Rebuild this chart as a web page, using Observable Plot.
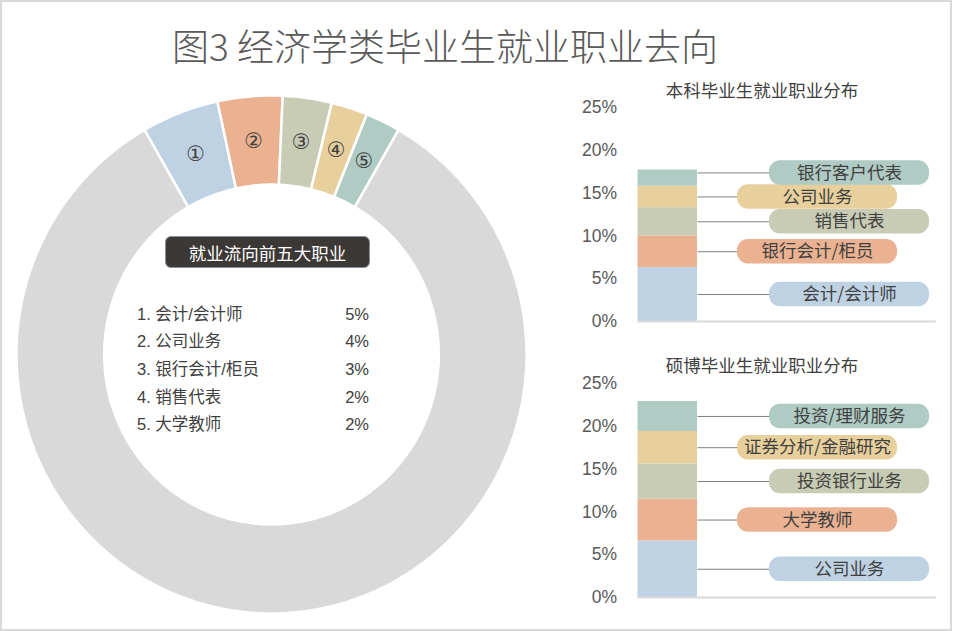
<!DOCTYPE html>
<html>
<head>
<meta charset="utf-8">
<script src="https://cdn.jsdelivr.net/npm/d3@7"></script>
<script src="https://cdn.jsdelivr.net/npm/@observablehq/plot@0.6"></script>
<style>
  html, body { margin: 0; padding: 0; background: #fff; }
  #root { position: relative; width: 971px; height: 631px; overflow: hidden;
          font-family: "Liberation Sans", "Noto Sans CJK SC", sans-serif; }
  #frame { position: absolute; left: 0; top: 0; width: 952px; height: 631px;
           box-sizing: border-box; border: 2px solid #d9d9d9; }
  .abs { position: absolute; }
  #title { left: 0; width: 890px; top: 21px; text-align: center; font-size: 37px;
           line-height: 48px; color: #595959; font-weight: 300;
           font-family: "Noto Sans CJK SC", sans-serif; }
  .subtitle { font-size: 17.5px; line-height: 24px; color: #404040; text-align: center;
              font-family: "Noto Sans CJK SC", sans-serif; width: 260px; }
  #badge { left: 165px; top: 236px; width: 205px; height: 32px; border-radius: 6px;
           background: #3b3835; color: #fff; font-size: 17.5px; line-height: 32px;
           text-align: center; box-sizing: border-box; border: 1px solid #8a8f99;
           font-family: "Noto Sans CJK SC", sans-serif; }
  .row { left: 137px; width: 232px; height: 26px; line-height: 26px; font-size: 16.5px;
         color: #404040; display: flex; justify-content: space-between; }
</style>
</head>
<body>
<div id="root">
  <div id="frame"></div>
  <div id="title" class="abs">图3 经济学类毕业生就业职业去向</div>
</div>
<script>
// ---------- data ----------
const donutJobs   = ["会计/会计师", "公司业务", "银行会计/柜员", "销售代表", "大学教师"];
const donutShares = [4.9, 4.1, 3.1, 2.3, 2.2];
const donutMarks  = ["①", "②", "③", "④", "⑤"];
const listTitle   = "就业流向前五大职业";

const bachelorTitle  = "本科毕业生就业职业分布";
const bachelorJobs   = ["会计/会计师", "银行会计/柜员", "销售代表", "公司业务", "银行客户代表"];
const bachelorShares = [6.3, 3.7, 3.3, 2.5, 1.9];

const graduateTitle  = "硕博毕业生就业职业分布";
const graduateJobs   = ["公司业务", "大学教师", "投资银行业务", "证券分析/金融研究", "投资/理财服务"];
const graduateShares = [6.6, 4.9, 4.1, 3.8, 3.5];

const yTicks = [0, 5, 10, 15, 20, 25];

// ---------- styles ----------
const palette  = ["#bfd2e4", "#ebb292", "#c8ccb4", "#e8d09d", "#afcbc3"];
const restFill = "#d9d9d9";
const font = '"Liberation Sans", "Noto Sans CJK SC", sans-serif';
const root = document.getElementById("root");

function place(node, left, top) {
  node.style.position = "absolute";
  node.style.left = left + "px";
  node.style.top = top + "px";
  root.appendChild(node);
}

// ---------- donut ----------
(function () {
  const W = 510, H = 518, R0 = 0.656;
  const total = 100;
  const sum = d3.sum(donutShares);
  const values = [...donutShares, total - sum];
  const colors = [...palette, restFill];
  const span = v => v / total * 2 * Math.PI;
  let a = -span(sum) / 2;           // top-five group centred on the top
  const pts = [], labels = [];
  values.forEach((v, i) => {
    const a0 = a, a1 = a + span(v);
    const n = Math.max(4, Math.ceil((a1 - a0) / 0.01));
    for (let t = 0; t <= n; t++) {
      const ang = a0 + (a1 - a0) * t / n;
      pts.push({k: i, x: Math.sin(ang), y: Math.cos(ang), c: colors[i]});
    }
    for (let t = n; t >= 0; t--) {
      const ang = a0 + (a1 - a0) * t / n;
      pts.push({k: i, x: R0 * Math.sin(ang), y: R0 * Math.cos(ang), c: colors[i]});
    }
    if (i < donutMarks.length) {
      const m = (a0 + a1) / 2, r = (1 + R0) / 2;
      labels.push({x: r * Math.sin(m), y: r * Math.cos(m), t: donutMarks[i]});
    }
    a = a1;
  });
  const chart = Plot.plot({
    width: W, height: H, margin: 0,
    x: {domain: [-1, 1], axis: null},
    y: {domain: [-1, 1], axis: null},
    color: {type: "identity"},
    style: {background: "transparent", fontFamily: font, overflow: "visible"},
    marks: [
      Plot.line(pts, {x: "x", y: "y", z: "k", fill: "c", stroke: "#ffffff",
                      strokeWidth: 2.5, curve: "linear-closed"}),
      Plot.text(labels, {x: "x", y: "y", text: "t", fontSize: 21, fill: "#404040",
                         fontFamily: '"DejaVu Sans", "Noto Sans CJK SC", sans-serif'})
    ]
  });
  place(chart, 15.5, 95);
})();

// ---------- list inside the donut ----------
(function () {
  const badge = document.createElement("div");
  badge.id = "badge"; badge.className = "abs"; badge.textContent = listTitle;
  root.appendChild(badge);
  donutJobs.forEach((job, i) => {
    const row = document.createElement("div");
    row.className = "row abs";
    row.style.top = (300.5 + 27.7 * i) + "px";
    const l = document.createElement("span");
    l.textContent = (i + 1) + ". " + job;
    const r = document.createElement("span");
    r.textContent = Math.round(donutShares[i]) + "%";
    row.appendChild(l); row.appendChild(r);
    root.appendChild(row);
  });
})();

// ---------- stacked bar charts ----------
function stackChart(title, jobs, shares, left, top, titleTop) {
  const W = 380, H = 240, mT = 12, mB = H - 12 - 214, mL = 67.5, mR = 14.3;
  const pxPerUnit = 214 / 25;
  const barW = 59.5;
  const boxW = 160, boxLeftA = 131.5, boxLeftB = 99.5;
  const half = 12.2 / pxPerUnit, gap = 24 / pxPerUnit;
  const cum = d3.cumsum(shares);
  const rows = jobs.map((job, i) => ({
    job, v: shares[i], c: palette[i],
    y1: cum[i] - shares[i], y2: cum[i], mid: cum[i] - shares[i] / 2,
    bl: i % 2 ? boxLeftB : boxLeftA
  }));
  let prev = -Infinity;
  rows.forEach(r => { r.ly = Math.max(r.mid, prev + gap); prev = r.ly; });
  const chart = Plot.plot({
    width: W, height: H, marginTop: mT, marginBottom: mB, marginLeft: mL, marginRight: mR,
    x: {domain: [0, W - mL - mR], axis: null},
    y: {domain: [0, 25], ticks: yTicks, tickFormat: d => d + "%", tickSize: 0,
        tickPadding: 21, label: null},
    color: {type: "identity"},
    style: {background: "transparent", fontFamily: font, fontSize: "17.5px",
            color: "#595959", overflow: "visible"},
    marks: [
      Plot.rect(rows, {x1: 0, x2: barW, y1: "y1", y2: "y2", fill: "c"}),
      Plot.ruleY([0], {x1: 0, x2: W - mL - mR, stroke: "#d9d9d9", strokeWidth: 2}),
      Plot.link(rows, {x1: barW, x2: "bl", y1: "ly", y2: "ly", stroke: "#7f7f7f", strokeWidth: 1}),
      Plot.rect(rows, {x1: "bl", x2: d => d.bl + boxW, y1: d => d.ly - half, y2: d => d.ly + half,
                       fill: "c", rx: 11, ry: 11}),
      Plot.text(rows, {x: d => d.bl + boxW / 2, y: "ly", text: "job", fontSize: 17.5,
                       fill: "#404040", fontFamily: '"Noto Sans CJK SC", sans-serif'})
    ]
  });
  place(chart, left, top);
  const t = document.createElement("div");
  t.className = "subtitle"; t.textContent = title;
  place(t, 762 - 130, titleTop);
}
stackChart(bachelorTitle, bachelorJobs, bachelorShares, 570, 95, 78);
stackChart(graduateTitle, graduateJobs, graduateShares, 570, 371.3, 353);
</script>
</body>
</html>
